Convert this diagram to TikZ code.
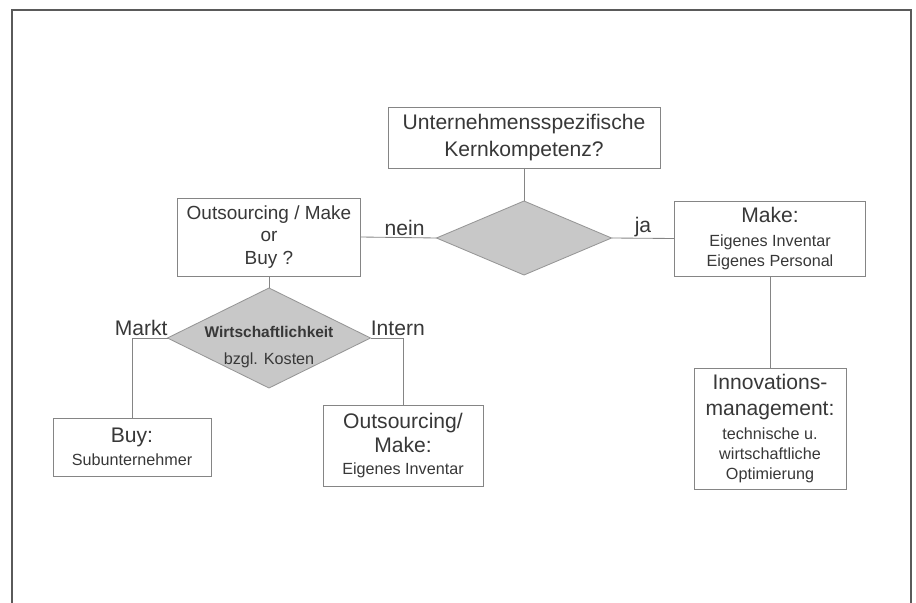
\documentclass[tikz,border=0pt]{standalone}
\usepackage{fontspec}
\setmainfont{Liberation Sans}
\usetikzlibrary{shapes.geometric}

\definecolor{linegray}{HTML}{858585}
\definecolor{framegray}{HTML}{5A5A5A}
\definecolor{textgray}{HTML}{383838}
\definecolor{diafill}{HTML}{C8C8C8}
% same line distance for both sizes, extra room goes in with \\[..]
\newcommand{\gross}{\fontsize{15}{14.5}\selectfont}
\newcommand{\mittel}{\fontsize{13.5}{16}\selectfont}
\newcommand{\klein}{\fontsize{11.5}{14.5}\selectfont}

\begin{document}
\begin{tikzpicture}[
    box/.style={draw=linegray, line width=0.6pt, fill=white, align=center, text=textgray, inner sep=0pt, outer sep=0pt},
    decision/.style={diamond, draw=diafill!75!black, fill=diafill, line width=0.6pt, inner sep=0pt, outer sep=0pt},
    conn/.style={draw=linegray, line width=0.6pt},
    answer/.style={text=textgray, font=\gross, inner sep=1pt}
  ]
  \useasboundingbox (0,0) rectangle (22.9,-15.075);

  % open frame round the chart
  \draw[framegray, line width=1.2pt] (0.3,-15.075) -- (0.3,-0.25) -- (22.775,-0.25) -- (22.775,-15.075);

  % first question
  \node[box, minimum width=6.8cm, minimum height=1.525cm, font=\gross] (kk) at (13.1,-3.4375) {Unternehmensspezifische\\[4.5pt]Kernkompetenz?};
  \node[decision, minimum width=4.375cm, minimum height=1.85cm] (d1) at (13.1,-5.95) {};
  \draw[conn] (kk.south) -- (d1.north);

  % nein: make or buy
  \node[box, minimum width=4.575cm, minimum height=1.95cm, font=\mittel] (mob) at (6.725,-5.925) {Outsourcing / Make\\or\\Buy ?};
  \draw[conn] (d1.west) -- (mob.east) node[answer, pos=0.42, above] (nein) {nein};

  % ja: make
  \node[box, minimum width=4.775cm, minimum height=1.875cm, font=\klein] (make) at (19.25,-5.9625) {\gross Make:\\[2.5pt]Eigenes Inventar\\Eigenes Personal};
  \draw[conn] (d1.east) -- (make.west) node[answer, midway, above] (ja) {ja};

  \node[box, minimum width=3.8cm, minimum height=3.025cm, font=\klein] (inno) at (19.25,-10.7125) {\gross Innovations-\\[4pt]\gross management:\\[2.5pt]technische u.\\wirtschaftliche\\Optimierung};
  \draw[conn] (make.south) -- (inno.north);

  % second question
  \node[decision, minimum width=5.075cm, minimum height=2.5cm] (wk) at (6.725,-8.45) {};
  \node[align=center, text=textgray, inner sep=0pt, font=\klein] (wktext) at (6.725,-8.68) {\fontsize{11}{14.5}\selectfont\bfseries Wirtschaftlichkeit\\[4.5pt]bzgl. Kosten};
  \draw[conn] (mob.south) -- (wk.north);

  % Markt and Intern
  \node[box, minimum width=3.95cm, minimum height=1.45cm, font=\klein] (buy) at (3.3,-11.175) {\gross Buy:\\[2pt]Subunternehmer};
  \node[box, minimum width=4.0cm, minimum height=2.025cm, font=\klein] (out) at (10.075,-11.1375) {\gross Outsourcing/\\[2.5pt]\gross Make:\\[1pt]Eigenes Inventar};
  \draw[conn] (wk.west) -| (buy.north) node[answer, pos=0.37, above] (markt) {Markt};
  \draw[conn] (wk.east) -| (out.north) node[answer, pos=0.42, above] (intern) {Intern};
\end{tikzpicture}
\end{document}
